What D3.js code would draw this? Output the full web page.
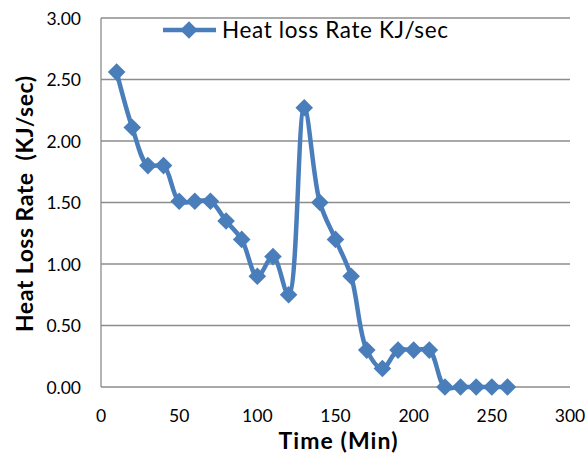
<!DOCTYPE html>
<html>
<head>
<meta charset="utf-8">
<script src="https://cdn.jsdelivr.net/npm/d3@7"></script>
<style>
  body { margin: 0; background: #fff; }
  text { font-family: Lato, "Open Sans", sans-serif; }
</style>
</head>
<body>
<div id="chart"></div>
<script>
// time in minutes
const times = [10, 20, 30, 40, 50, 60, 70, 80, 90, 100, 110, 120, 130, 140, 150, 160, 170, 180, 190, 200, 210, 220, 230, 240, 250, 260];
// heat loss rate KJ/sec
const heatLoss = [2.56, 2.11, 1.80, 1.80, 1.51, 1.51, 1.51, 1.35, 1.20, 0.90, 1.06, 0.75, 2.27, 1.50, 1.20, 0.90, 0.30, 0.15, 0.30, 0.30, 0.30, 0, 0, 0, 0, 0];
const xTicks = [0, 50, 100, 150, 200, 250, 300];
const yTicks = [0, 0.5, 1, 1.5, 2, 2.5, 3];
const seriesName = "Heat loss Rate KJ/sec";

const W = 587, H = 458;
const margin = {left: 101, top: 18, right: 17, bottom: 71};
const blue = "#4a7ebb";

const svg = d3.select("#chart").append("svg")
    .attr("width", W)
    .attr("height", H);

const x = d3.scaleLinear().domain([0, 300]).range([margin.left, W - margin.right]);
const y = d3.scaleLinear().domain([0, 3]).range([H - margin.bottom, margin.top]);

// gridlines
svg.selectAll(".grid")
    .data(yTicks)
    .enter()
    .append("line")
    .attr("x1", x(0))
    .attr("x2", x(300))
    .attr("y1", d => y(d))
    .attr("y2", d => y(d))
    .attr("stroke", "#8c8c8c")
    .attr("stroke-width", 1.3);

// left axis line
svg.append("line")
    .attr("x1", x(0)).attr("x2", x(0))
    .attr("y1", y(0)).attr("y2", y(3))
    .attr("stroke", "#8c8c8c")
    .attr("stroke-width", 1.3);

// y tick labels
svg.selectAll(".ylab")
    .data(yTicks)
    .enter()
    .append("text")
    .attr("x", 81)
    .attr("y", d => y(d) + 6.5)
    .attr("text-anchor", "end")
    .attr("font-size", 17.5)
    .text(d => d.toFixed(2));

// x tick labels
svg.selectAll(".xlab")
    .data(xTicks)
    .enter()
    .append("text")
    .attr("x", d => x(d))
    .attr("y", 422)
    .attr("text-anchor", "middle")
    .attr("font-size", 17.5)
    .text(d => d);

// axis titles
svg.append("text")
    .attr("x", 338)
    .attr("y", 449)
    .attr("text-anchor", "middle")
    .attr("font-size", 23)
    .attr("font-weight", "bold")
    .attr("textLength", 119)
    .text("Time (Min)");

svg.append("text")
    .attr("transform", "translate(33," + 204 + ") rotate(-90)")
    .attr("text-anchor", "middle")
    .attr("font-size", 23)
    .attr("font-weight", "bold")
    .attr("textLength", 256)
    .style("white-space", "pre")
    .text("Heat Loss Rate  (KJ/sec)");

const data = times.map((t, i) => ({t: t, v: heatLoss[i]}));

let line = d3.line()
    .x(d => x(d.t))
    .y(d => y(d.v))
    .curve(d3.curveCatmullRom.alpha(0.5));

svg.append("path")
    .datum(data)
    .attr("d", line)
    .attr("fill", "none")
    .attr("stroke", blue)
    .attr("stroke-width", 4.5)
    .attr("stroke-linejoin", "round");

const diamond = d3.symbol().type(d3.symbolSquare).size(155);

svg.selectAll(".pt")
    .data(data)
    .enter()
    .append("path")
    .attr("d", diamond)
    .attr("transform", d => "translate(" + x(d.t) + "," + y(d.v) + ") rotate(45)")
    .attr("fill", blue);

// legend
svg.append("line")
    .attr("x1", 163).attr("x2", 216)
    .attr("y1", 30).attr("y2", 30)
    .attr("stroke", blue)
    .attr("stroke-width", 4.5);
svg.append("path")
    .attr("d", diamond)
    .attr("transform", "translate(189,30) rotate(45)")
    .attr("fill", blue);
svg.append("text")
    .attr("x", 222)
    .attr("y", 38)
    .attr("font-size", 22.5)
    .attr("textLength", 226)
    .text(seriesName);
</script>
</body>
</html>
